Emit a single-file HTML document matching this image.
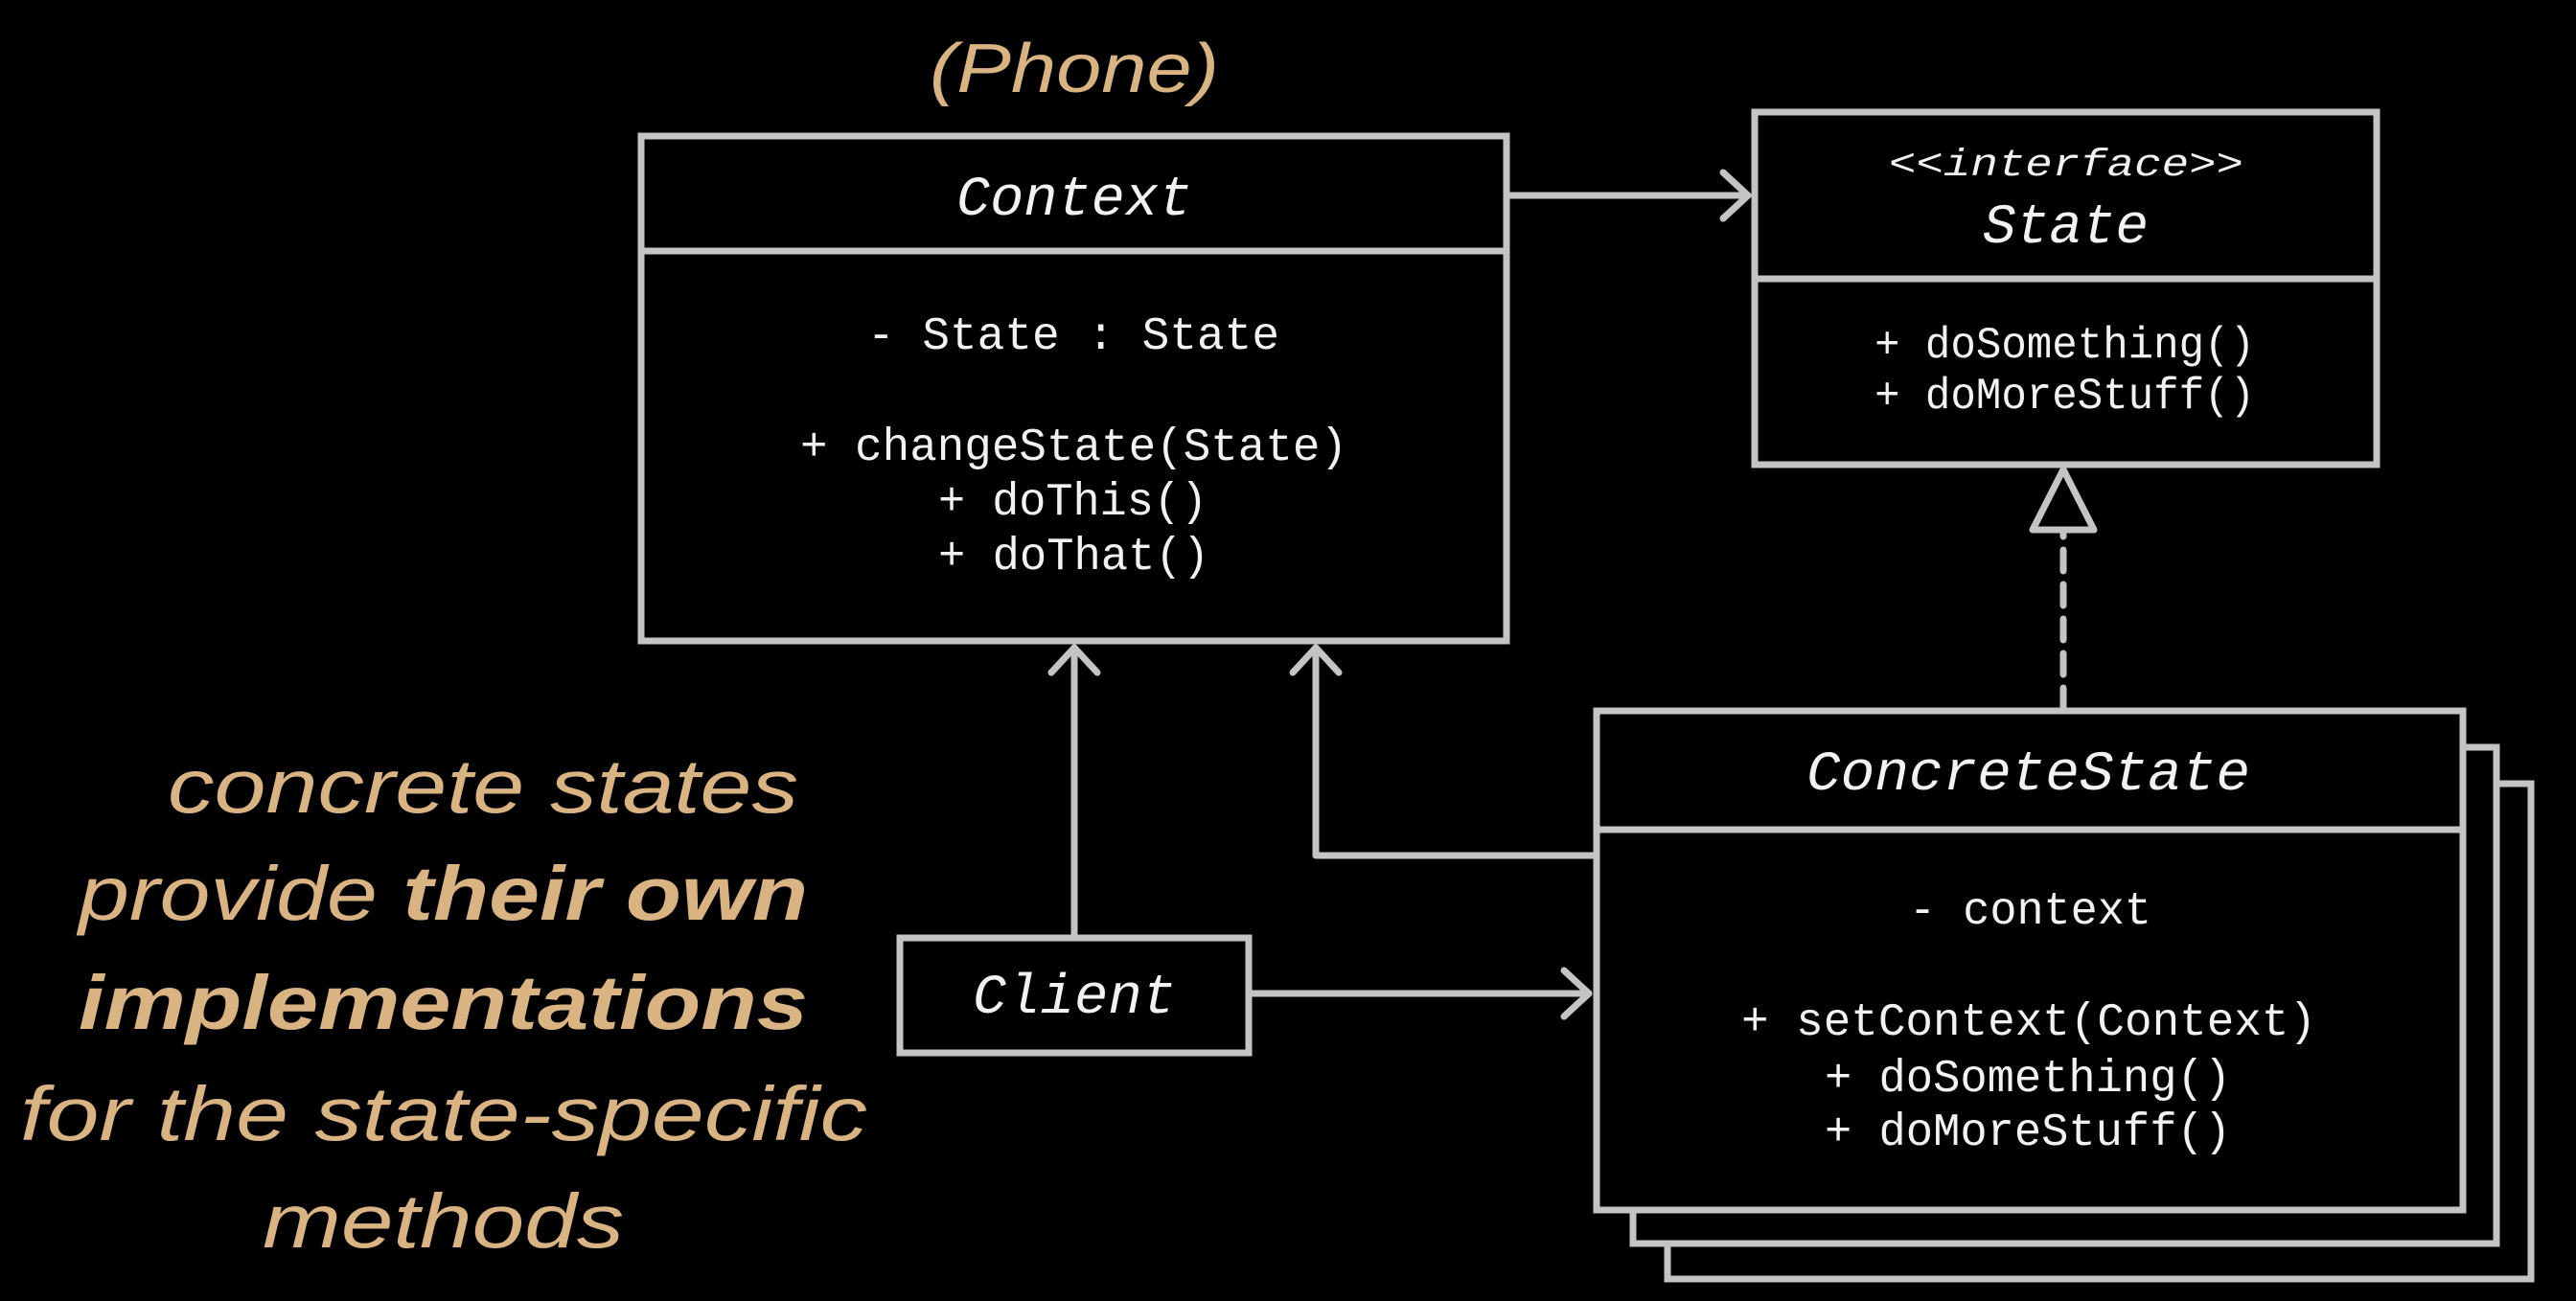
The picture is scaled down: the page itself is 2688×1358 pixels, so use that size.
<!DOCTYPE html>
<html><head><meta charset="utf-8"><style>
html,body{margin:0;padding:0;background:#000;}
svg{display:block;}
.m{font-family:"Liberation Mono",monospace;fill:#f2f2f2;}
.t{font-family:"Liberation Sans",sans-serif;fill:#d9b382;font-style:italic;}
</style></head><body>
<svg width="2688" height="1358" viewBox="0 0 2688 1358" xmlns="http://www.w3.org/2000/svg">
<rect width="2688" height="1358" fill="#000"/>
<g stroke="#c4c4c4" stroke-width="7" fill="#000">
  <rect x="1740" y="818" width="901" height="517"/>
  <rect x="1704" y="780" width="901" height="518"/>
  <rect x="1666" y="742" width="904" height="521"/>
  <line x1="1666" y1="866" x2="2570" y2="866"/>
  <rect x="669" y="142" width="903" height="527"/>
  <line x1="669" y1="262" x2="1572" y2="262"/>
  <rect x="1831" y="117" width="649" height="368"/>
  <line x1="1831" y1="291" x2="2480" y2="291"/>
  <rect x="939" y="979" width="364" height="120"/>
</g>
<g stroke="#c4c4c4" stroke-width="7" fill="none" stroke-linecap="round" stroke-linejoin="round">
  <line x1="1572" y1="204" x2="1824" y2="204"/>
  <polyline points="1798,180 1824,204 1798,228"/>
  <line x1="1121" y1="979" x2="1121" y2="676"/>
  <polyline points="1097,702 1121,676 1145,702"/>
  <polyline points="1664,893 1373,893 1373,676"/>
  <polyline points="1349,702 1373,676 1397,702"/>
  <line x1="1303" y1="1037" x2="1658" y2="1037"/>
  <polyline points="1632,1013 1658,1037 1632,1061"/>
  <line x1="2153" y1="740" x2="2153" y2="556" stroke-dasharray="22,14"/>
  <polygon points="2153,490 2121,553 2185,553" fill="#000"/>
</g>
<text class="m" x="998" y="224" font-size="58" font-style="italic" textLength="246" lengthAdjust="spacingAndGlyphs">Context</text>
<text class="m" x="905" y="364" font-size="48" textLength="430" lengthAdjust="spacingAndGlyphs">- State : State</text>
<text class="m" x="835" y="480" font-size="48" textLength="571" lengthAdjust="spacingAndGlyphs">+ changeState(State)</text>
<text class="m" x="979" y="537" font-size="48" textLength="281" lengthAdjust="spacingAndGlyphs">+ doThis()</text>
<text class="m" x="979" y="594" font-size="48" textLength="283" lengthAdjust="spacingAndGlyphs">+ doThat()</text>
<text class="m" x="1971" y="183" font-size="40" font-style="italic" textLength="370" lengthAdjust="spacingAndGlyphs">&lt;&lt;interface&gt;&gt;</text>
<text class="m" x="2069" y="253" font-size="58" font-style="italic" textLength="173" lengthAdjust="spacingAndGlyphs">State</text>
<text class="m" x="1956" y="373" font-size="46" textLength="397" lengthAdjust="spacingAndGlyphs">+ doSomething()</text>
<text class="m" x="1956" y="426" font-size="46" textLength="397" lengthAdjust="spacingAndGlyphs">+ doMoreStuff()</text>
<text class="m" x="1885" y="824" font-size="58" font-style="italic" textLength="463" lengthAdjust="spacingAndGlyphs">ConcreteState</text>
<text class="m" x="1992" y="964" font-size="48" textLength="253" lengthAdjust="spacingAndGlyphs">- context</text>
<text class="m" x="1817" y="1080" font-size="48" textLength="600" lengthAdjust="spacingAndGlyphs">+ setContext(Context)</text>
<text class="m" x="1904" y="1139" font-size="48" textLength="424" lengthAdjust="spacingAndGlyphs">+ doSomething()</text>
<text class="m" x="1904" y="1195" font-size="48" textLength="424" lengthAdjust="spacingAndGlyphs">+ doMoreStuff()</text>
<text class="m" x="1015" y="1057" font-size="58" font-style="italic" textLength="212" lengthAdjust="spacingAndGlyphs">Client</text>
<text class="t" x="970" y="96" font-size="72" textLength="302" lengthAdjust="spacingAndGlyphs">(Phone)</text>
<text class="t" x="175" y="848" font-size="80" textLength="658" lengthAdjust="spacingAndGlyphs">concrete states</text>
<text class="t" x="82" y="960" font-size="80" textLength="761" lengthAdjust="spacingAndGlyphs">provide <tspan font-weight="bold">their own</tspan></text>
<text class="t" x="82" y="1074" font-size="80" font-weight="bold" textLength="761" lengthAdjust="spacingAndGlyphs">implementations</text>
<text class="t" x="21" y="1190" font-size="80" textLength="884" lengthAdjust="spacingAndGlyphs">for the state-specific</text>
<text class="t" x="274" y="1302" font-size="80" textLength="377" lengthAdjust="spacingAndGlyphs">methods</text>
</svg>
</body></html>
